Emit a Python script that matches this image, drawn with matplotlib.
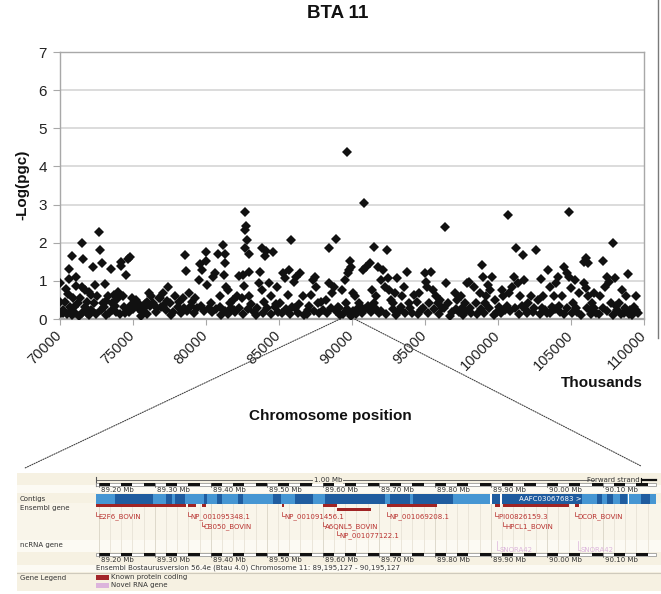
import matplotlib
matplotlib.use("Agg")
import matplotlib.pyplot as plt
import numpy as np
from matplotlib.patches import Rectangle, ConnectionPatch
from matplotlib.lines import Line2D

# ---------------- data: association scan on BTA 11 (positions in thousands of bp) -------------
positions = [
    70060, 70060, 70200, 70410, 70550, 70610, 70610, 70840, 70690, 70840, 71070, 71130, 71130,
    71270, 71420, 71500, 71560, 71620, 71710, 71850, 72000, 72140, 72290, 72340, 72430, 72580,
    72690, 72780, 72870, 73010, 73100, 73150, 73300, 73500, 73590, 73730, 73880, 74020, 74170,
    74230, 74310, 74460, 74540, 74660, 74830, 74750,
    70120, 70260, 70490, 70760, 71010, 71300, 71560, 71710, 72000, 72230, 72520, 72810, 72980,
    73380, 73610, 73790, 74100, 74400, 74600, 74890, 70350, 70900, 71900, 72150, 73200, 73950,
    74950, 75120, 75240, 75470, 75610, 75760, 75990, 76110, 76280, 76400, 76570, 76770, 76920,
    77060, 77260, 77440, 77550, 77790, 77930, 78070, 78310, 78420,
    75050, 75350, 75850, 76200, 76650, 77100, 77650, 78150, 75600, 76000, 76900, 77350,
    78570, 78650, 78860, 79090, 79290, 79520, 79580, 79750, 80010, 80010, 80100, 80390, 80530,
    80620, 80850, 80970, 81050, 81170, 81230, 81320, 81340, 81400, 81550, 81690, 81840, 81920,
    82130,
    78500, 78750, 79000, 79200, 79400, 79650, 79900, 80200, 80450, 80700, 81000, 81300, 81500,
    81750, 82000,
    82700, 82790, 82700, 82850, 82700, 82990, 82940, 82650, 82560, 82270, 82470, 82990, 83280,
    83430, 83630, 83690, 83830, 84060, 84150, 84350, 84590, 83860, 84010, 84440, 84730, 84870,
    84960,
    82300, 82550, 82900, 83100, 83500, 83950, 84200, 84500, 84800,
    85110, 85310, 85450, 85690, 85830, 85660, 85890, 86030, 86180, 86320, 86470, 86640, 86760,
    86990, 87190, 87340, 87480, 87570, 87680, 87860,
    85200, 85500, 85800, 86100, 86400, 86900, 87100, 87400, 87750,
    88060, 88200, 88430, 88430, 88640, 88780, 88930, 89070, 89220, 89360, 89510, 89590, 89650,
    89710, 89790, 89880, 89940, 90080, 90230, 90370, 90520, 90610, 90750, 90840, 90980, 91270,
    91390, 91530, 91530, 91680, 91820, 91970,
    88300, 88550, 88900, 89150, 89400, 89650, 89800, 89950, 90100, 90300, 90450, 90700, 90900,
    91100, 91300, 91600, 91850,
    92110, 92250, 92430, 92490, 92540, 92690, 92830, 92980, 93120, 93270, 93410, 93560, 93760,
    93930, 94140, 94280, 94430, 94570, 94710,
    92000, 92350, 92800, 93000, 93350, 93650, 94000, 94500,
    95000, 95090, 95150, 95290, 95440, 95580, 95730, 95870, 96020, 96160, 96360, 96450, 96600,
    96830, 97030, 97170, 97320, 97460, 97610, 97750,
    94900, 95200, 95600, 95950, 96300, 96700, 97100, 97550,
    97900, 98040, 98190, 98330, 98480, 98770, 98910, 98970, 99140, 99200, 99350, 99490, 99630,
    99780, 99920, 100070, 100300, 100360, 100500,
    97850, 98100, 98600, 98850, 99050, 99400, 99700, 100200, 100600,
    100700, 100790, 100940, 101080, 101230, 101370, 101520, 101750, 101800, 101950, 102090,
    102240, 102380, 102620, 102730, 102960, 103110, 103250, 103400, 103540,
    100850, 101150, 101450, 101650, 102000, 102450, 102850, 103050, 103350,
    103690, 103830, 103980, 104120, 104260, 104410, 104550, 104700, 104840, 104900, 104990,
    105130, 105280, 105420, 105570, 105860, 106000, 106150, 106290, 106000, 105860, 106150,
    103600, 103900, 104200, 104500, 104750, 105050, 105350, 105700, 106100, 106400,
    106430, 106580, 106720, 107010, 107160, 107300, 107450, 107590, 107740, 107910, 108030,
    108170, 108320, 108460, 108610, 108750, 108900, 109040, 109180, 109330, 109470, 109470,
    106600, 106900, 107200, 107500, 107850, 108100, 108400, 108700, 109000, 109250, 109600,
]
neg_log_p = [
    0.94, 0.44, 0.17, 0.78, 0.66, 1.06, 1.30, 1.65, 0.32, 0.10, 0.17, 1.11, 0.87,
    0.41, 0.54, 0.85, 1.98, 1.58, 0.76, 0.15, 0.72, 0.24, 1.36, 0.41, 0.89, 0.59,
    2.29, 1.82, 1.47, 0.32, 0.92, 0.10, 0.59, 1.30, 0.41, 0.63, 0.19, 0.71, 1.40,
    1.50, 0.59, 0.15, 1.15, 1.57, 1.62, 0.19,
    0.15, 0.24, 0.12, 0.20, 0.32, 0.08, 0.16, 0.32, 0.10, 0.20, 0.13, 0.24, 0.41,
    0.17, 0.24, 0.34, 0.13, 0.32, 0.24, 0.37, 0.45, 0.55, 0.45, 0.62, 0.48, 0.52,
    0.54, 0.41, 0.50, 0.37, 0.19, 0.28, 0.45, 0.67, 0.59, 0.41, 0.19, 0.54, 0.32,
    0.67, 0.24, 0.85, 0.41, 0.19, 0.59, 0.32, 0.15, 0.54,
    0.25, 0.30, 0.40, 0.35, 0.28, 0.33, 0.10, 0.45, 0.08, 0.12, 0.55, 0.48,
    1.67, 1.26, 0.67, 0.45, 0.54, 1.01, 1.44, 1.29, 1.52, 1.76, 0.89, 0.41, 1.11,
    1.20, 1.71, 0.59, 0.10, 1.94, 1.15, 1.71, 1.48, 0.85, 0.76, 0.41, 0.50, 0.24,
    0.59,
    0.30, 0.20, 0.35, 0.15, 0.28, 0.35, 0.22, 0.30, 0.18, 0.25, 0.32, 0.20, 0.12,
    0.30, 0.18,
    2.80, 2.44, 2.34, 2.08, 1.87, 1.70, 1.23, 0.87, 1.15, 1.14, 0.54, 0.61, 0.19,
    0.10, 0.94, 1.23, 1.85, 1.64, 1.79, 0.95, 1.75, 0.76, 0.45, 0.59, 0.32, 0.85,
    0.19,
    0.30, 0.12, 0.25, 0.40, 0.30, 0.15, 0.28, 0.12, 0.40,
    0.41, 1.20, 1.07, 1.29, 2.08, 0.63, 0.32, 0.98, 1.11, 0.17, 1.20, 0.61, 0.10,
    0.24, 0.63, 1.01, 1.11, 0.85, 0.41, 0.45,
    0.15, 0.25, 0.12, 0.30, 0.40, 0.13, 0.35, 0.20, 0.15,
    0.24, 0.50, 1.86, 0.94, 0.69, 0.85, 2.11, 0.32, 0.10, 0.76, 1.02, 0.41, 4.37,
    1.20, 1.29, 1.52, 1.36, 0.67, 0.59, 0.19, 0.41, 0.32, 1.29, 3.04, 1.37, 1.48,
    0.76, 1.90, 0.41, 0.59, 1.37, 1.02,
    0.15, 0.30, 0.20, 0.28, 0.13, 0.25, 0.15, 0.08, 0.22, 0.12, 0.28, 0.15, 0.25,
    0.35, 0.18, 0.28, 0.15,
    1.29, 0.85, 1.82, 1.07, 0.76, 0.50, 0.41, 0.67, 1.08, 0.24, 0.59, 0.85, 1.22,
    0.41, 0.15, 0.63, 0.45, 0.67, 0.24,
    0.20, 0.12, 0.25, 0.10, 0.32, 0.15, 0.28, 0.12,
    1.20, 0.98, 0.85, 0.41, 1.22, 0.76, 0.59, 0.41, 0.50, 0.28, 2.40, 0.94, 0.41,
    0.19, 0.67, 0.50, 0.19, 0.59, 0.10, 0.41,
    0.30, 0.15, 0.25, 0.12, 0.30, 0.08, 0.25, 0.30,
    0.94, 0.98, 0.15, 0.85, 0.41, 0.67, 1.42, 1.11, 0.41, 0.59, 0.89, 0.76, 1.11,
    0.50, 0.19, 0.32, 0.76, 0.59, 0.24,
    0.20, 0.30, 0.12, 0.25, 0.15, 0.30, 0.10, 0.15, 0.35,
    2.72, 0.67, 0.85, 1.11, 1.87, 0.94, 0.59, 1.68, 1.02, 0.24, 0.41,
    0.59, 0.19, 1.82, 0.50, 1.04, 0.59, 0.24, 1.29, 0.85,
    0.20, 0.30, 0.12, 0.35, 0.15, 0.28, 0.12, 0.30, 0.15,
    0.32, 0.59, 0.94, 1.11, 0.19, 0.59, 1.37, 1.20, 1.11, 2.80, 0.80,
    0.41, 1.02, 0.19, 0.67, 0.94, 0.80, 0.59, 0.24, 1.59, 1.50, 1.46,
    0.15, 0.25, 0.35, 0.12, 0.30, 0.15, 0.28, 0.10, 0.30, 0.12,
    0.41, 0.67, 0.15, 0.59, 1.53, 0.85, 1.11, 0.98, 0.41, 1.98, 1.07,
    0.24, 0.41, 0.76, 0.15, 0.59, 1.17, 0.24, 0.10, 0.32, 0.61, 0.24,
    0.30, 0.12, 0.30, 0.20, 0.10, 0.35, 0.12, 0.30, 0.12, 0.20, 0.15,
]
x_ticks = [70000, 75000, 80000, 85000, 90000, 95000, 100000, 105000, 110000]
y_ticks = [0, 1, 2, 3, 4, 5, 6, 7]

# ---------------- data: Ensembl view of the region (Mb) ----------------
region_start_mb = 89.195127
region_end_mb = 90.195127
gene_names = ["E2F6_BOVIN", "NP_001095348.1", "CB050_BOVIN", "NP_001091456.1", "A6QNL5_BOVIN",
              "NP_001077122.1", "NP_001069208.1", "IPI00826159.3", "HPCL1_BOVIN", "DCOR_BOVIN"]
gene_starts = [89.195, 89.359, 89.384, 89.527, 89.600, 89.625, 89.715, 89.907, 89.922, 90.050]
gene_ends = [89.356, 89.374, 89.391, 89.531, 89.625, 89.686, 89.804, 89.916, 90.040, 90.057]
gene_label_rows = [0, 0, 1, 0, 1, 2, 0, 0, 1, 0]
gene_bar_rows = [0, 0, 0, 0, 0, 1, 0, 0, 0, 0]
ncrna_names = ["SNORA42", "SNORA42"]
ncrna_starts = [89.911, 90.056]
contig_dark_starts = [89.229, 89.320, 89.336, 89.388, 89.411, 89.449, 89.511, 89.550, 89.604,
                      89.720, 89.761, 89.902, 89.920, 90.090, 90.108, 90.131, 90.168]
contig_dark_ends = [89.297, 89.331, 89.354, 89.393, 89.420, 89.458, 89.525, 89.583, 89.711,
                    89.756, 89.833, 89.916, 90.063, 90.099, 90.118, 90.143, 90.184]
contig_gap_starts = [89.899, 89.916, 90.145]
contig_gap_ends = [89.902, 89.920, 90.147]
contig_name = "AAFC03067683 >"
caption = "Ensembl Bostaurusversion 56.4e (Btau 4.0) Chromosome 11: 89,195,127 - 90,195,127"

# ---------------- figure ----------------
W, H = 661, 594
fig = plt.figure(figsize=(W / 100, H / 100), dpi=100)
fig.patch.set_facecolor("white")


def fx(px):
    return px / W


def fy(py):
    return 1 - py / H


FONT = "Liberation Sans"
ax = fig.add_axes([fx(59.6), fy(319), (644 - 59.6) / W, (319 - 52) / H])
ax.plot(positions, neg_log_p, linestyle="none", marker="D", ms=4.7, mew=0, color="#111111",
        zorder=3)
ax.set_xlim(70000, 110000)
ax.set_ylim(0, 7)
ax.set_yticks(y_ticks)
ax.set_yticklabels([str(v) for v in y_ticks], fontsize=11, family=FONT, color="#222222")
ax.set_xticks(x_ticks)
ax.set_xticklabels([str(v) for v in x_ticks], fontsize=10.5, family=FONT, color="#222222")
for lbl in ax.get_xticklabels():
    lbl.set_rotation(45)
    lbl.set_ha("right")
    lbl.set_va("center")
    lbl.set_rotation_mode("anchor")
ax.grid(axis="y", color="#d6d6d6", lw=1.2)
ax.set_axisbelow(True)
for s in ["left", "right", "top"]:
    ax.spines[s].set_color("#a8a8a8")
    ax.spines[s].set_linewidth(1.0)
ax.spines["bottom"].set_color("#a8a8a8")
ax.spines["bottom"].set_linewidth(1.6)
ax.tick_params(axis="y", length=5, color="#a8a8a8", pad=4)
ax.tick_params(axis="x", length=4, color="#a8a8a8", pad=6)

fig.text(fx(338), fy(14), "BTA 11", ha="center", va="center", fontsize=13.5,
         fontweight="bold", family=FONT, color="#111111")
fig.text(fx(22), fy(185), "-Log(pgc)", ha="center", va="center", rotation=90, fontsize=11,
         fontweight="bold", family=FONT, color="#111111")
fig.text(fx(643), fy(383), "Thousands", ha="right", va="center", fontsize=11,
         fontweight="bold", family=FONT, color="#111111")
fig.text(fx(330), fy(416), "Chromosome position", ha="center", va="center", fontsize=11,
         fontweight="bold", family=FONT, color="#111111")
fig.add_artist(Line2D([fx(658), fx(658)], [fy(0), fy(338)], color="#7a7a7a", lw=1.0))

# dotted zoom lines
for pos_k, end_px in [(region_start_mb * 1000, (25, 468)), (region_end_mb * 1000, (641, 466))]:
    con = ConnectionPatch(xyA=(pos_k, 0), coordsA=ax.transData,
                          xyB=(fx(end_px[0]), fy(end_px[1])), coordsB=fig.transFigure,
                          linestyle=(0, (1, 1.2)), lw=0.8, color="#444444")
    fig.add_artist(con)

# ---------------- Ensembl panel ----------------
PX_LEFT, PX_RIGHT, PX_TOP, PX_BOT = 17, 661, 473, 591
TRACK_L, TRACK_R = 96, 656
mb_per_px = (region_end_mb - region_start_mb) / (TRACK_R - TRACK_L)


def mb_at(px):
    return region_start_mb + (px - TRACK_L) * mb_per_px


gax = fig.add_axes([fx(PX_LEFT), fy(PX_BOT), (PX_RIGHT - PX_LEFT) / W, (PX_BOT - PX_TOP) / H])
gax.set_xlim(mb_at(PX_LEFT), mb_at(PX_RIGHT))
gax.set_ylim(PX_BOT, PX_TOP)
gax.axis("off")
BASE = "#f6f1e2"
LIGHT = "#fcfaf3"
x0, x1 = mb_at(PX_LEFT), mb_at(PX_RIGHT)
gax.add_patch(Rectangle((x0, PX_TOP), x1 - x0, PX_BOT - PX_TOP, color=BASE, lw=0, zorder=0))
for (ya, yb, c) in [(485, 493, LIGHT), (503, 540, "#f9f5ea"), (540, 552, LIGHT),
                    (565, 572, LIGHT)]:
    gax.add_patch(Rectangle((x0, ya), x1 - x0, yb - ya, color=c, lw=0, zorder=0.5))
gax.plot([x0, x1], [572.5, 572.5], color="#cfcabc", lw=0.8, zorder=1)

ts, te = region_start_mb, region_end_mb
FS = 5.0
PFONT = "DejaVu Sans"
# vertical light grid
minor = np.arange(89.20, 90.195, 0.02)
for m in minor:
    major = abs((m * 10) - round(m * 10)) < 1e-6
    gax.plot([m, m], [503, 553], color="#d9d4c6" if major else "#e8e3d6", lw=0.6, zorder=1)

# scale line with 1.00 Mb
gax.plot([ts, mb_at(594)], [480, 480], color="#555555", lw=0.6, zorder=2)
gax.plot([ts, ts], [477, 486], color="#555555", lw=0.8, zorder=2)
gax.text((ts + mb_at(594)) / 2 - 0.03, 480, "1.00 Mb", fontsize=FS, family=PFONT,
         ha="center", va="center", color="#333333", zorder=3,
         bbox=dict(boxstyle="square,pad=0.15", fc=BASE, ec="none"))
gax.text(mb_at(640), 480, "Forward strand", fontsize=FS, family=PFONT, ha="right",
         va="center", color="#333333", zorder=3)
gax.plot([mb_at(642), te], [480, 480], color="#111111", lw=1.6, zorder=3)
gax.plot([mb_at(641), mb_at(641)], [478, 482], color="#111111", lw=0.8, zorder=3)


def ruler(y, label_y):
    gax.add_patch(Rectangle((ts, y - 1.5), te - ts, 3.0, fc="white", ec="#888888", lw=0.5,
                            zorder=2))
    marks = np.arange(89.20, 90.195, 0.04)
    for m in marks:
        gax.add_patch(Rectangle((m, y - 1.5), 0.02, 3.0, fc="#111111", ec="none", zorder=3))
    for m in np.arange(89.20, 90.15, 0.10):
        gax.plot([m, m], [y - 1.5, y + 3], color="#555555", lw=0.5, zorder=3)
        gax.text(m + 0.004, label_y, f"{m:.2f} Mb", fontsize=FS, family=PFONT, ha="left",
                 va="center", color="#333333", zorder=3)


ruler(484, 489.5)
ruler(554, 560)

# contigs
gax.add_patch(Rectangle((ts, 494), te - ts, 9.5, fc="#4696d3", ec="none", zorder=2))
for s_, e_ in zip(contig_dark_starts, contig_dark_ends):
    gax.add_patch(Rectangle((s_, 494), e_ - s_, 9.5, fc="#1f5c9f", ec="none", zorder=3))
for s_, e_ in zip(contig_gap_starts, contig_gap_ends):
    gax.add_patch(Rectangle((s_, 494), e_ - s_, 9.5, fc="white", ec="none", zorder=4))
gax.text(mb_at(519), 498.8, contig_name, fontsize=FS, family=PFONT, ha="left", va="center",
         color="white", zorder=5)

# genes
RED = "#a02424"
LBL = "#b8312f"
bar_y = [505.5, 509.5]
label_y = [517, 526.5, 536]
for name, s_, e_, lr, br in zip(gene_names, gene_starts, gene_ends, gene_label_rows,
                                gene_bar_rows):
    gax.add_patch(Rectangle((s_, bar_y[br] - 1.6), max(e_ - s_, 0.003), 3.2, fc=RED,
                            ec="none", zorder=3))
    ly = label_y[lr]
    gax.plot([s_, s_, s_ + 0.006], [ly - 5, ly - 1, ly - 1], color=LBL, lw=0.5, zorder=3)
    gax.text(s_ + 0.004, ly, name, fontsize=FS, family=PFONT, ha="left", va="center",
             color=LBL, zorder=4)

PINK = "#dcb4dc"
for name, s_ in zip(ncrna_names, ncrna_starts):
    gax.plot([s_, s_, s_ + 0.006], [541, 549.5, 549.5], color=PINK, lw=0.5, zorder=3)
    gax.text(s_ + 0.004, 550, name, fontsize=FS, family=PFONT, ha="left", va="center",
             color=PINK, zorder=4)

# left labels
for txt, y in [("Contigs", 499), ("Ensembl gene", 508), ("ncRNA gene", 545),
               ("Gene Legend", 578)]:
    gax.text(mb_at(20), y, txt, fontsize=FS, family=PFONT, ha="left", va="center",
             color="#333333", zorder=4)

gax.text(ts, 568, caption, fontsize=FS, family=PFONT, ha="left", va="center",
         color="#333333", zorder=4)

# legend
gax.add_patch(Rectangle((ts, 574.5), 13 * mb_per_px, 5.5, fc="#a3262a", ec="none", zorder=3))
gax.text(mb_at(111), 577, "Known protein coding", fontsize=FS, family=PFONT, ha="left",
         va="center", color="#333333", zorder=4)
gax.add_patch(Rectangle((ts, 582.5), 13 * mb_per_px, 5.5, fc=PINK, ec="none", zorder=3))
gax.text(mb_at(111), 585.5, "Novel RNA gene", fontsize=FS, family=PFONT, ha="left",
         va="center", color="#333333", zorder=4)

fig.savefig("out.png", dpi=100)
